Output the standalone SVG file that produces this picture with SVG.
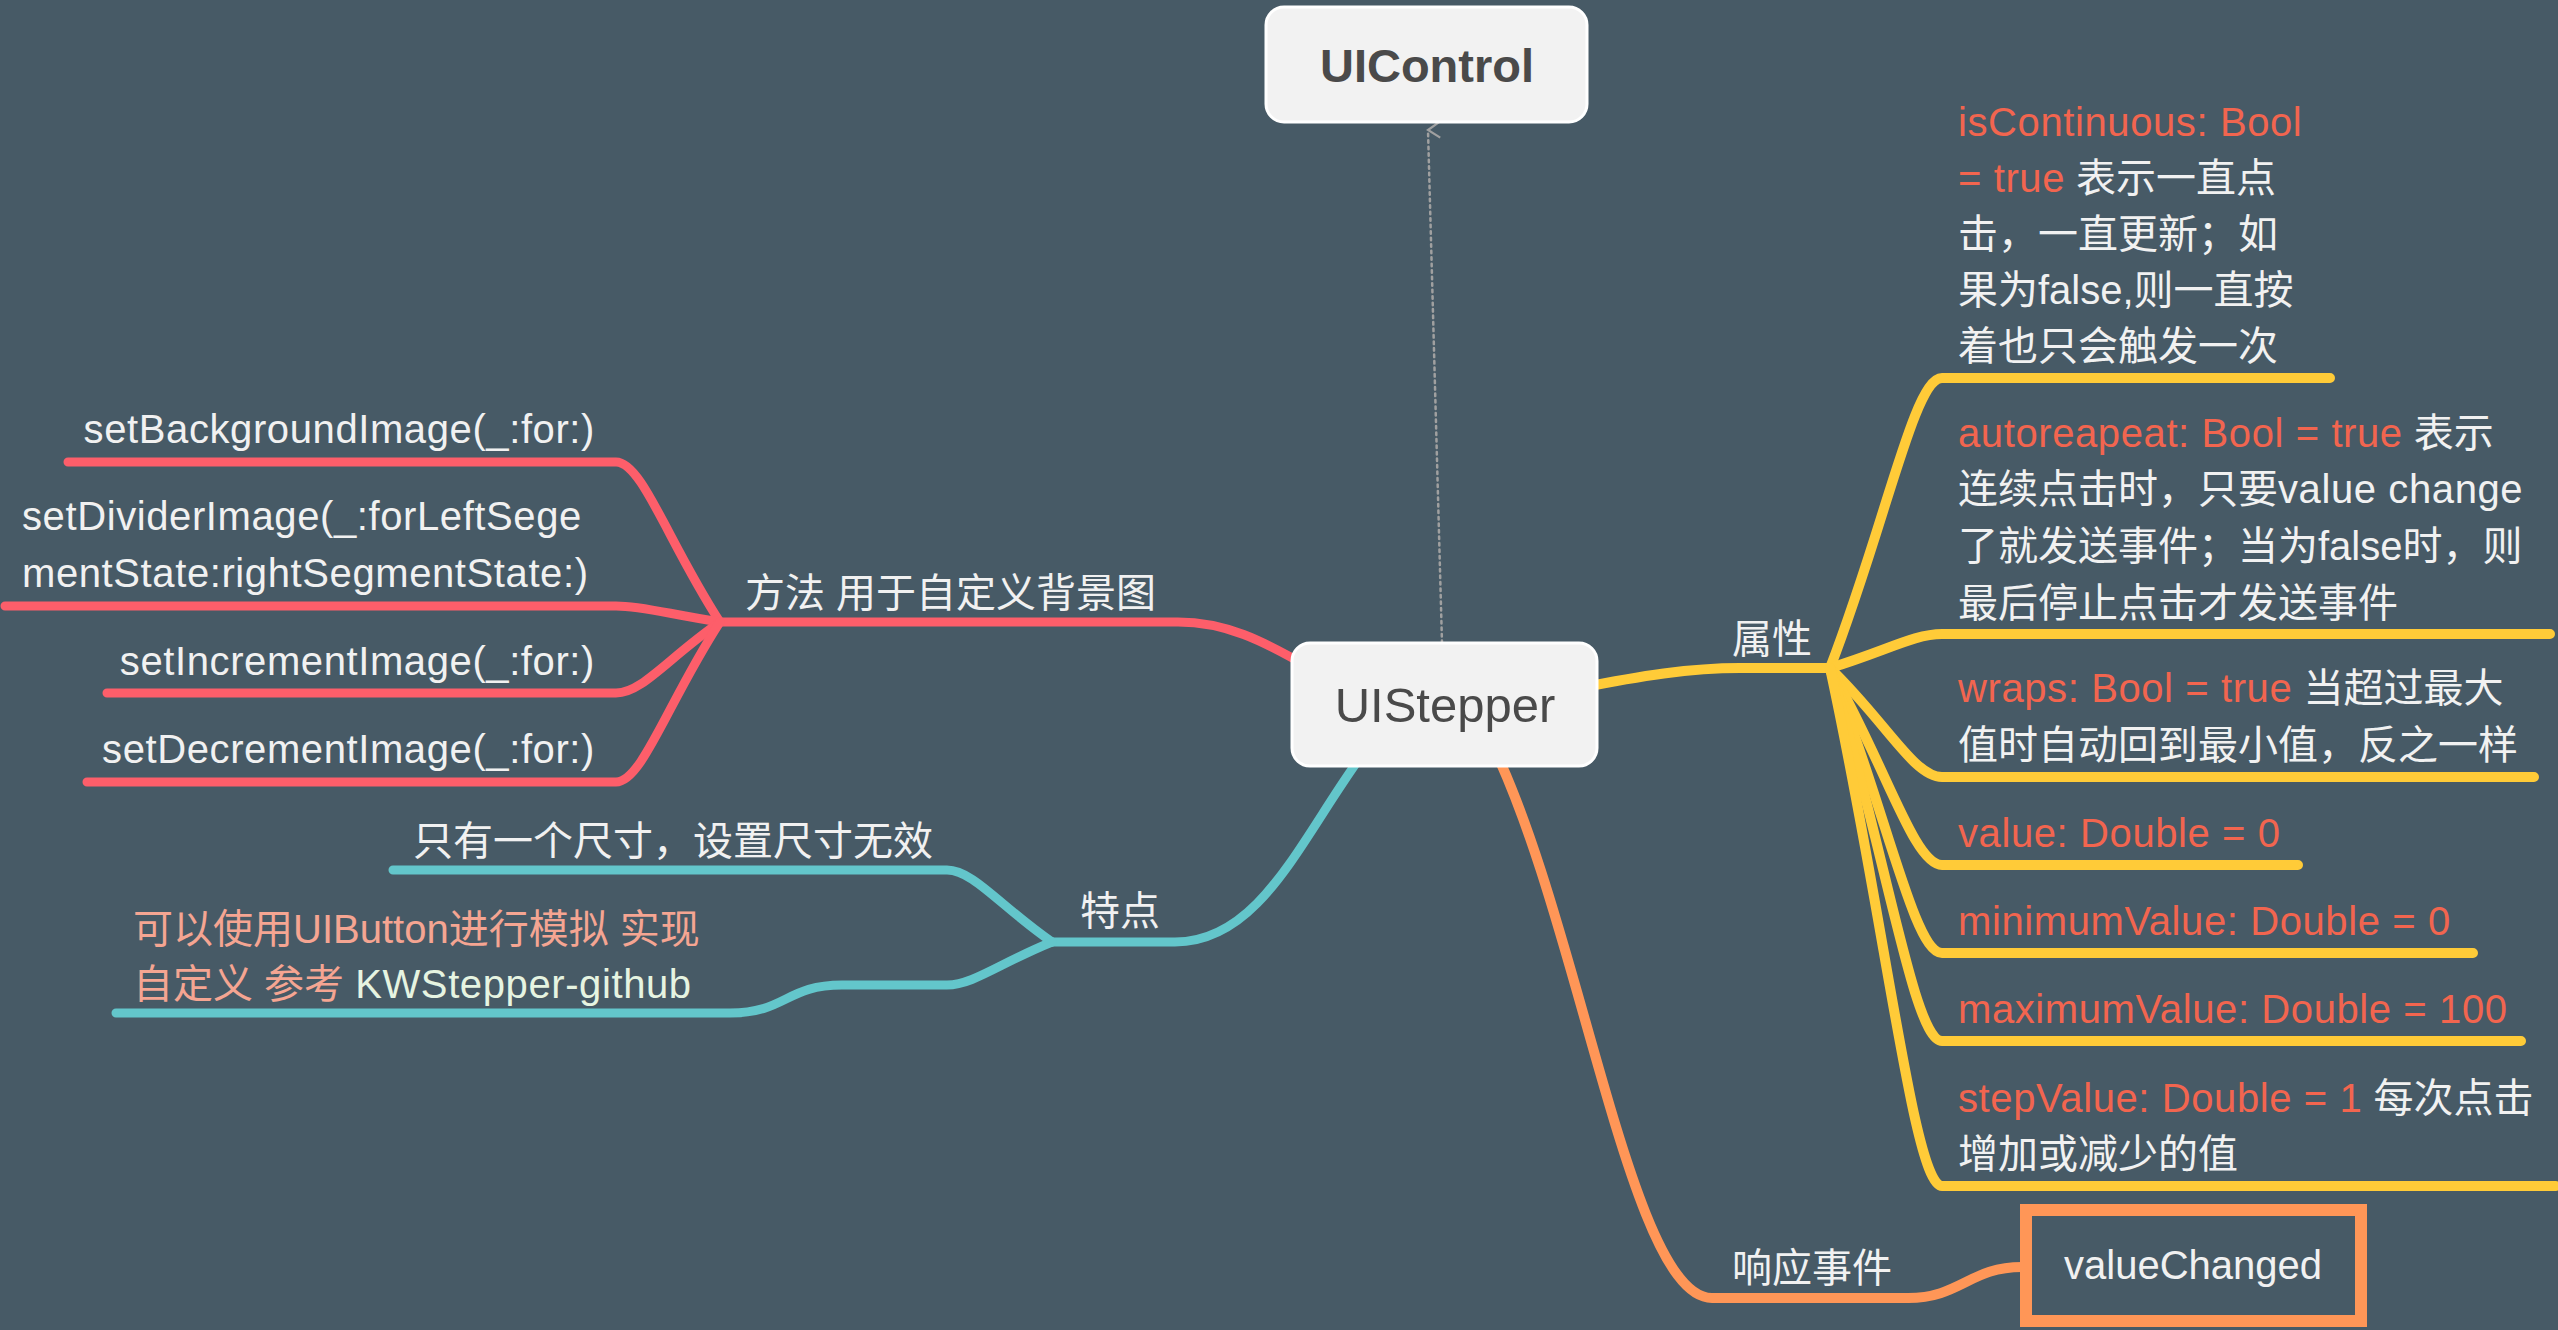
<svg xmlns="http://www.w3.org/2000/svg" width="2558" height="1330" viewBox="0 0 2558 1330">
<style>
.t{font-family:"Liberation Sans","Noto Sans CJK SC",sans-serif;font-size:40px;fill:#f1f1f1}
.l{letter-spacing:0.6px}
.r{fill:#f2654f}
.s{fill:#f5a592}
.m{fill:#e6f4e1}
.ln{fill:none;stroke-linecap:round;stroke-linejoin:round}
.red{stroke:#fd5e6a;stroke-width:9}
.cy{stroke:#63c6cb;stroke-width:9}
.ye{stroke:#ffcb38;stroke-width:10}
.or{stroke:#ff9657;stroke-width:10}
.box{fill:#f2f2f2;stroke:#ffffff;stroke-width:3}
.bt{font-family:"Liberation Sans","Noto Sans CJK SC",sans-serif;fill:#4a4a4a;text-anchor:middle}
</style>
<defs>
<marker id="arr" markerWidth="20" markerHeight="20" refX="10" refY="2" orient="auto" markerUnits="userSpaceOnUse">
<path d="M2 14 L10 2 L18 14" fill="none" stroke="#a0a0a0" stroke-width="2.2"/>
</marker>
</defs>
<rect x="0" y="0" width="2558" height="1330" fill="#475a66"/>
<g id="connectors">
<path class="ln" d="M1442 643 L1428 130" stroke="#a0a0a0" stroke-width="2.5" stroke-dasharray="2.5 4" stroke-linecap="butt" fill="none" marker-end="url(#arr)"/>
<path class="ln red" stroke-width="11" d="M720 622 L1178 622 C1225 622 1262 640 1310 668"/>
<path class="ln red" d="M68 462 L616 462 C642 462 668 542 720 622"/>
<path class="ln red" d="M5 606 L616 606 C642 606 668 614 720 622"/>
<path class="ln red" d="M107 693 L616 693 C642 693 668 658 720 622"/>
<path class="ln red" d="M87 782 L616 782 C642 782 668 702 720 622"/>
<path class="ln cy" stroke-width="11" d="M1052 942 L1175 942 C1260 942 1300 840 1362 755"/>
<path class="ln cy" d="M393 870 L947 870 C973 870 1000 906 1052 942"/>
<path class="ln cy" d="M116 1013 L730 1013 C786 1013 786 985 842 985 L947 985 C973 985 1000 963 1052 942"/>
<path class="ln ye" stroke-width="12" d="M1580 688 C1640 676 1690 668 1740 668 L1830 668"/>
<path class="ln ye" d="M2330 378 L1942 378 C1914 378 1886 523 1830 668"/>
<path class="ln ye" d="M2550 634 L1942 634 C1914 634 1886 651 1830 668"/>
<path class="ln ye" d="M2534 777 L1942 777 C1914 777 1886 722 1830 668"/>
<path class="ln ye" d="M2298 865 L1942 865 C1914 865 1886 766 1830 668"/>
<path class="ln ye" d="M2473 953 L1942 953 C1914 953 1886 810 1830 668"/>
<path class="ln ye" d="M2521 1041 L1942 1041 C1914 1041 1886 854 1830 668"/>
<path class="ln ye" d="M2556 1186 L1942 1186 C1914 1186 1886 927 1830 668"/>
<path class="ln or" stroke-width="12" d="M1490 740 C1580 920 1630 1298 1712 1298 L1908 1298"/>
<path class="ln or" stroke-width="8" d="M1908 1298 C1960 1298 1970 1267 2022 1267"/>
</g>
<g id="uicontrol">
<rect class="box" x="1266" y="7" width="321" height="115" rx="18"/>
<text class="bt" x="1427" y="82" font-size="47" font-weight="bold">UIControl</text>
</g>
<g id="uistepper">
<rect class="box" x="1292" y="643" width="305" height="123" rx="18"/>
<text class="bt" x="1445" y="722" font-size="49">UIStepper</text>
</g>
<g id="methods"><text class="t" x="745" y="607">方法 用于自定义背景图</text></g>
<g id="setBackgroundImage"><text class="t l" x="595" y="443" text-anchor="end">setBackgroundImage(_:for:)</text></g>
<g id="setDividerImage"><text class="t l" x="22" y="530">setDividerImage(_:forLeftSege</text><text class="t l" x="22" y="587">mentState:rightSegmentState:)</text></g>
<g id="setIncrementImage"><text class="t l" x="595" y="675" text-anchor="end">setIncrementImage(_:for:)</text></g>
<g id="setDecrementImage"><text class="t l" x="595" y="763" text-anchor="end">setDecrementImage(_:for:)</text></g>
<g id="features"><text class="t" x="1080" y="925">特点</text></g>
<g id="onesize"><text class="t" x="413" y="855">只有一个尺寸，设置尺寸无效</text></g>
<g id="custom">
<text class="t" x="133" y="943"><tspan class="s">可以使用UIButton进行模拟 实现</tspan></text>
<text class="t" x="133" y="998"><tspan class="s">自定义 参考 </tspan><tspan class="m l">KWStepper-github</tspan></text>
</g>
<g id="properties"><text class="t" x="1732" y="653">属性</text></g>
<g id="isContinuous">
<text class="t" x="1958" y="136"><tspan class="r l">isContinuous: Bool</tspan></text>
<text class="t" x="1958" y="192"><tspan class="r l">= true</tspan> 表示一直点</text>
<text class="t" x="1958" y="248">击，一直更新；如</text>
<text class="t" x="1958" y="304">果为false,则一直按</text>
<text class="t" x="1958" y="360">着也只会触发一次</text>
</g>
<g id="autorepeat">
<text class="t" x="1958" y="447"><tspan class="r l">autoreapeat: Bool = true</tspan> 表示</text>
<text class="t" x="1958" y="503">连续点击时，只要<tspan class="l">value change</tspan></text>
<text class="t" x="1958" y="560">了就发送事件；当为false时，则</text>
<text class="t" x="1958" y="617">最后停止点击才发送事件</text>
</g>
<g id="wraps">
<text class="t" x="1958" y="702"><tspan class="r l">wraps: Bool = true</tspan> 当超过最大</text>
<text class="t" x="1958" y="759">值时自动回到最小值，反之一样</text>
</g>
<g id="value"><text class="t r l" x="1958" y="847">value: Double = 0</text></g>
<g id="minimumValue"><text class="t r l" x="1958" y="935">minimumValue: Double = 0</text></g>
<g id="maximumValue"><text class="t r l" x="1958" y="1023">maximumValue: Double = 100</text></g>
<g id="stepValue">
<text class="t" x="1958" y="1112"><tspan class="r l">stepValue: Double = 1</tspan> 每次点击</text>
<text class="t" x="1958" y="1168">增加或减少的值</text>
</g>
<g id="events"><text class="t" x="1732" y="1282">响应事件</text></g>
<g id="valueChanged">
<rect x="2026" y="1210" width="335" height="111" fill="none" stroke="#ff9657" stroke-width="12"/>
<text class="t" x="2193" y="1279" text-anchor="middle">valueChanged</text>
</g>
</svg>
